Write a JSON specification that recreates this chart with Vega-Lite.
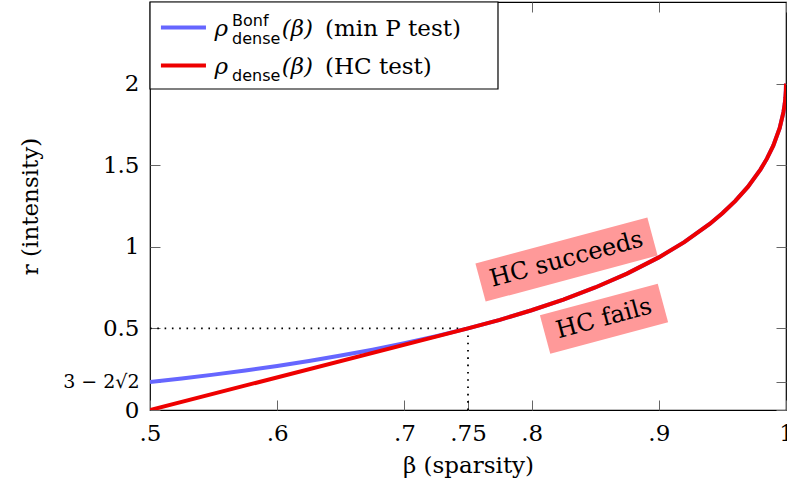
{
  "$schema": "https://vega.github.io/schema/vega-lite/v6.json",
  "width": 636,
  "height": 408,
  "autosize": {"type": "none"},
  "padding": {"left": 150, "top": 2, "right": 1, "bottom": 83},
  "config": {
    "view": {"stroke": "black", "strokeWidth": 1.2},
    "font": "DejaVu Serif",
    "axis": {
      "grid": false,
      "domain": false,
      "tickColor": "#666666",
      "tickWidth": 1,
      "tickSize": -10,
      "labelFont": "DejaVu Serif",
      "labelFontSize": 23,
      "labelColor": "black",
      "titleFont": "DejaVu Serif",
      "titleFontSize": 23,
      "titleFontWeight": "normal",
      "titleColor": "black",
      "labelOverlap": false,
      "labelFlush": false,
      "labelBound": false
    }
  },
  "datasets": {
    "bonf": [
      {"b": 0.5, "r": 0.171573}, {"b": 0.525, "r": 0.19319}, {"b": 0.55, "r": 0.216718},
      {"b": 0.575, "r": 0.242319}, {"b": 0.6, "r": 0.270178}, {"b": 0.625, "r": 0.30051},
      {"b": 0.65, "r": 0.333568}, {"b": 0.675, "r": 0.369648}, {"b": 0.7, "r": 0.40911},
      {"b": 0.725, "r": 0.452384}, {"b": 0.75, "r": 0.5}, {"b": 0.775, "r": 0.552632},
      {"b": 0.8, "r": 0.611146}, {"b": 0.825, "r": 0.67668}, {"b": 0.85, "r": 0.750807},
      {"b": 0.875, "r": 0.835786}, {"b": 0.9, "r": 0.935089}, {"b": 0.92, "r": 1.028629},
      {"b": 0.94, "r": 1.140204}, {"b": 0.95, "r": 1.205573}, {"b": 0.96, "r": 1.28},
      {"b": 0.97, "r": 1.36718}, {"b": 0.98, "r": 1.474315}, {"b": 0.985, "r": 1.540104},
      {"b": 0.99, "r": 1.62}, {"b": 0.995, "r": 1.727157}, {"b": 0.998, "r": 1.825114},
      {"b": 0.999, "r": 1.875508}, {"b": 0.9995, "r": 1.911558}, {"b": 0.9999, "r": 1.9602},
      {"b": 1, "r": 2}
    ],
    "hc": [
      {"b": 0.5, "r": 0}, {"b": 0.75, "r": 0.5}, {"b": 0.775, "r": 0.552632},
      {"b": 0.8, "r": 0.611146}, {"b": 0.825, "r": 0.67668}, {"b": 0.85, "r": 0.750807},
      {"b": 0.875, "r": 0.835786}, {"b": 0.9, "r": 0.935089}, {"b": 0.92, "r": 1.028629},
      {"b": 0.94, "r": 1.140204}, {"b": 0.95, "r": 1.205573}, {"b": 0.96, "r": 1.28},
      {"b": 0.97, "r": 1.36718}, {"b": 0.98, "r": 1.474315}, {"b": 0.985, "r": 1.540104},
      {"b": 0.99, "r": 1.62}, {"b": 0.995, "r": 1.727157}, {"b": 0.998, "r": 1.825114},
      {"b": 0.999, "r": 1.875508}, {"b": 0.9995, "r": 1.911558}, {"b": 0.9999, "r": 1.9602},
      {"b": 1, "r": 2}
    ]
  },
  "layer": [
    {
      "data": {"values": [
        {"b": 0.5, "b2": 0.75, "r": 0.5, "r2": 0.5},
        {"b": 0.75, "b2": 0.75, "r": 0, "r2": 0.5}
      ]},
      "mark": {"type": "rule", "color": "black", "strokeWidth": 1.8, "strokeDash": [1.6, 5.7]},
      "encoding": {
        "x": {"field": "b", "type": "quantitative", "scale": {"domain": [0.5, 1], "nice": false, "zero": false}, "axis": null},
        "x2": {"field": "b2"},
        "y": {"field": "r", "type": "quantitative", "scale": {"domain": [0, 2.5], "nice": false}, "axis": null},
        "y2": {"field": "r2"}
      }
    },
    {
      "data": {"name": "bonf"},
      "mark": {"type": "line", "color": "#6666ff", "strokeWidth": 4, "clip": true},
      "encoding": {
        "x": {"field": "b", "type": "quantitative", "scale": {"domain": [0.5, 1], "nice": false, "zero": false},
          "axis": {"orient": "bottom", "values": [0.5, 0.6, 0.7, 0.75, 0.8, 0.9, 1],
            "labelExpr": "datum.value == 1 ? '1' : replace(format(datum.value, '.2~f'), '0.', '.')",
            "labelPadding": 22,
            "title": "β (sparsity)", "titleY": 62, "titleBaseline": "alphabetic"}},
        "y": {"field": "r", "type": "quantitative", "scale": {"domain": [0, 2.5], "nice": false},
          "axis": {"orient": "left", "values": [0, 0.171573, 0.5, 1, 1.5, 2],
            "labelExpr": "datum.value > 0.1 && datum.value < 0.2 ? '3 − 2√2' : format(datum.value, '~g')",
            "labelFontSize": {"condition": {"test": "datum.value > 0.1 && datum.value < 0.2", "value": 19}, "value": 23},
            "labelPadding": 21,
            "title": "r (intensity)", "titleX": -113, "titleY": 204, "titleAngle": -90,
            "titleAlign": "center", "titleBaseline": "alphabetic"}}
      }
    },
    {
      "data": {"name": "hc"},
      "mark": {"type": "line", "color": "#ee0000", "strokeWidth": 4, "clip": true},
      "encoding": {
        "x": {"field": "b", "type": "quantitative", "scale": {"domain": [0.5, 1], "nice": false, "zero": false},
          "axis": {"orient": "top", "values": [0.5, 0.6, 0.7, 0.75, 0.8, 0.9, 1], "labels": false, "title": null}},
        "y": {"field": "r", "type": "quantitative", "scale": {"domain": [0, 2.5], "nice": false},
          "axis": {"orient": "right", "values": [0, 0.171573, 0.5, 1, 1.5, 2], "labels": false, "title": null}}
      }
    },
    {
      "data": {"values": [{"b": 0.5, "b2": 0.77358, "r": 2.5, "r2": 1.9669}]},
      "mark": {"type": "rect", "fill": "white", "stroke": "black", "strokeWidth": 1.2},
      "encoding": {
        "x": {"field": "b", "type": "quantitative", "scale": {"domain": [0.5, 1], "nice": false, "zero": false}, "axis": null},
        "x2": {"field": "b2"},
        "y": {"field": "r", "type": "quantitative", "scale": {"domain": [0, 2.5], "nice": false}, "axis": null},
        "y2": {"field": "r2"}
      }
    },
    {
      "data": {"values": [
        {"b": 0.5086, "b2": 0.544, "r": 2.3438, "s": "bonf"},
        {"b": 0.5086, "b2": 0.544, "r": 2.1109, "s": "hc"}
      ]},
      "mark": {"type": "rule", "strokeWidth": 4},
      "encoding": {
        "x": {"field": "b", "type": "quantitative", "scale": {"domain": [0.5, 1], "nice": false, "zero": false}, "axis": null},
        "x2": {"field": "b2"},
        "y": {"field": "r", "type": "quantitative", "scale": {"domain": [0, 2.5], "nice": false}, "axis": null},
        "color": {"field": "s", "type": "nominal", "scale": {"domain": ["bonf", "hc"], "range": ["#6666ff", "#ee0000"]}, "legend": null}
      }
    },
    {
      "data": {"values": [
        {"b": 0.5507, "r": 2.2917, "t": "ρ"},
        {"b": 0.5507, "r": 2.0588, "t": "ρ"},
        {"b": 0.60354, "r": 2.2917, "t": "(β)"},
        {"b": 0.60354, "r": 2.0588, "t": "(β)"}
      ]},
      "mark": {"type": "text", "font": "DejaVu Serif", "fontStyle": "italic", "fontSize": 23, "align": "left", "baseline": "alphabetic", "color": "black"},
      "encoding": {
        "x": {"field": "b", "type": "quantitative", "scale": {"domain": [0.5, 1], "nice": false, "zero": false}, "axis": null},
        "y": {"field": "r", "type": "quantitative", "scale": {"domain": [0, 2.5], "nice": false}, "axis": null},
        "text": {"field": "t"}
      }
    },
    {
      "data": {"values": [
        {"b": 0.56447, "r": 2.3529, "t": "Bonf"},
        {"b": 0.56447, "r": 2.2426, "t": "dense"},
        {"b": 0.56447, "r": 2.0129, "t": "dense"}
      ]},
      "mark": {"type": "text", "font": "DejaVu Sans", "fontSize": 16, "align": "left", "baseline": "alphabetic", "color": "black"},
      "encoding": {
        "x": {"field": "b", "type": "quantitative", "scale": {"domain": [0.5, 1], "nice": false, "zero": false}, "axis": null},
        "y": {"field": "r", "type": "quantitative", "scale": {"domain": [0, 2.5], "nice": false}, "axis": null},
        "text": {"field": "t"}
      }
    },
    {
      "data": {"values": [
        {"b": 0.63758, "r": 2.2917, "t": "(min P test)"},
        {"b": 0.63758, "r": 2.0588, "t": "(HC test)"}
      ]},
      "mark": {"type": "text", "font": "DejaVu Serif", "fontSize": 23, "align": "left", "baseline": "alphabetic", "color": "black"},
      "encoding": {
        "x": {"field": "b", "type": "quantitative", "scale": {"domain": [0.5, 1], "nice": false, "zero": false}, "axis": null},
        "y": {"field": "r", "type": "quantitative", "scale": {"domain": [0, 2.5], "nice": false}, "axis": null},
        "text": {"field": "t"}
      }
    },
    {
      "data": {"values": [{"b": 0.82744, "r": 0.9222}]},
      "mark": {"type": "point", "shape": "M-1,-0.222L1,-0.222L1,0.222L-1,0.222Z", "size": 31684, "angle": -15, "filled": true, "fill": "#ff9999", "opacity": 1, "strokeWidth": 0},
      "encoding": {
        "x": {"field": "b", "type": "quantitative", "scale": {"domain": [0.5, 1], "nice": false, "zero": false}, "axis": null},
        "y": {"field": "r", "type": "quantitative", "scale": {"domain": [0, 2.5], "nice": false}, "axis": null}
      }
    },
    {
      "data": {"values": [{"b": 0.85692, "r": 0.5591}]},
      "mark": {"type": "point", "shape": "M-1,-0.328L1,-0.328L1,0.328L-1,0.328Z", "size": 14884, "angle": -15, "filled": true, "fill": "#ff9999", "opacity": 1, "strokeWidth": 0},
      "encoding": {
        "x": {"field": "b", "type": "quantitative", "scale": {"domain": [0.5, 1], "nice": false, "zero": false}, "axis": null},
        "y": {"field": "r", "type": "quantitative", "scale": {"domain": [0, 2.5], "nice": false}, "axis": null}
      }
    },
    {
      "data": {"values": [
        {"b": 0.82744, "r": 0.9222, "t": "HC succeeds"},
        {"b": 0.85692, "r": 0.5591, "t": "HC fails"}
      ]},
      "mark": {"type": "text", "font": "DejaVu Serif", "fontSize": 24, "angle": -15, "align": "center", "baseline": "middle", "color": "black"},
      "encoding": {
        "x": {"field": "b", "type": "quantitative", "scale": {"domain": [0.5, 1], "nice": false, "zero": false}, "axis": null},
        "y": {"field": "r", "type": "quantitative", "scale": {"domain": [0, 2.5], "nice": false}, "axis": null},
        "text": {"field": "t"}
      }
    }
  ],
  "resolve": {"axis": {"x": "independent", "y": "independent"}}
}
